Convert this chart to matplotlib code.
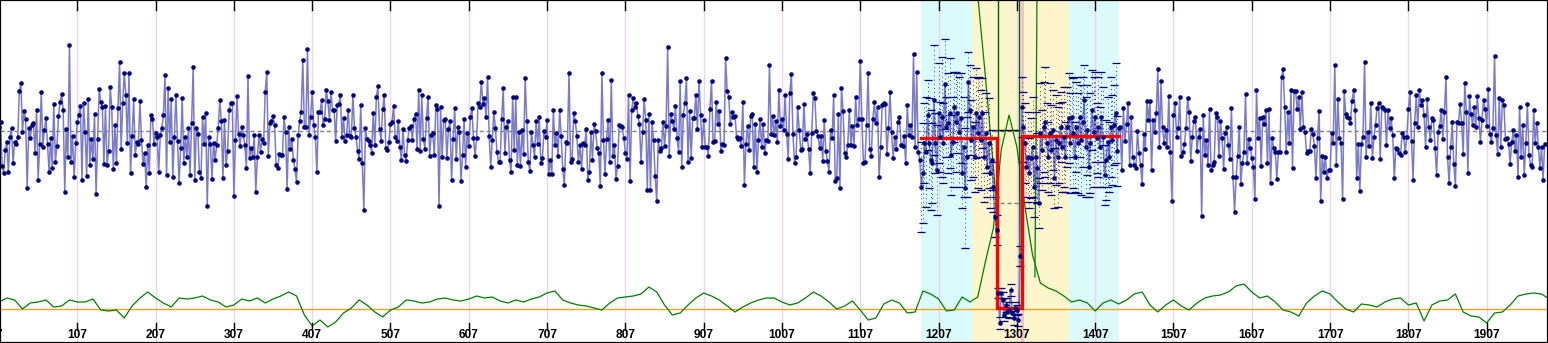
import numpy as np
import matplotlib
matplotlib.use("Agg")
import matplotlib.pyplot as plt
from matplotlib.transforms import Affine2D, blended_transform_factory

# ---------------------------------------------------------------- data
# probe log-ratios, one probe every 2 index units starting at 7
ratios_a = [
    0.04, 0.09, -0.35, -0.42, -0.19, -0.11, -0.41, -0.06, 0.03, -0.32,
    -0.11, -0.13, -0.06, 0.40, 0.48, -0.01, 0.20, 0.12, -0.57, 0.03,
    -0.07, 0.06, 0.08, -0.22, 0.21, -0.49, -0.13, 0.39, -0.16, 0.01,
    0.13, -0.13, -0.41, -0.07, -0.37, 0.27, -0.31, -0.15, 0.15, 0.29,
    0.37, 0.21, -0.61, 0.02, -0.26, 0.86, -0.31, -0.05, -0.46, -0.12,
    0.09, 0.16, 0.25, -0.49, 0.28, -0.01, -0.45, 0.32, -0.34, -0.08,
    -0.28, 0.17, -0.63, -0.08, 0.42, 0.29, 0.24, -0.33, 0.25, -0.34,
    -0.20, 0.44, 0.24, -0.38, 0.06, -0.32, 0.23, 0.69, -0.18, 0.28,
    0.58, 0.36, -0.12, 0.58, -0.42, -0.05, 0.32, -0.24, -0.11, -0.13,
    0.30, -0.09, -0.33, -0.22, -0.56, -0.14, -0.42, 0.16, 0.12, -0.13,
    -0.02, -0.06, -0.41, -0.04, 0.03, 0.16, 0.56, -0.44, 0.43, -0.11,
    0.32, -0.46, -0.06, 0.36, -0.10, -0.52, -0.17, 0.33, -0.32, -0.06,
    -0.26, 0.03, -0.44, 0.08, 0.64, -0.49, 0.03, -0.03, -0.41, -0.47,
    0.14, -0.13, 0.18, -0.75, -0.06, -0.13, -0.48, -0.12, -0.29, -0.14,
    0.03, 0.31, 0.10, -0.47, 0.11, -0.34, -0.20, 0.21, 0.28, 0.28,
    -0.65, -0.09, 0.35, -0.03, -0.15, 0.04, -0.04, -0.14, -0.37, 0.55,
    -0.27, -0.17, -0.26, -0.04, -0.61, -0.26, -0.04, -0.21, -0.08, -0.12,
    0.39, 0.59, -0.25, 0.08, 0.10, 0.15, 0.06, -0.34, -0.37, -0.23,
    -0.24, -0.24, 0.14, -0.01, -0.58, 0.04, -0.18, -0.08, -0.29, -0.38,
    -0.51, -0.04, 0.10, 0.19, 0.71, 0.04, 0.04, 0.82, -0.04, 0.14,
    0.39, 0.06, -0.06, -0.41, 0.19, 0.19, 0.31, 0.06, 0.12, 0.41,
    0.30, 0.11, 0.39, 0.21, 0.21, -0.10, 0.26, 0.27, 0.36, -0.06,
    0.13, -0.10, -0.04, 0.21, -0.05, -0.06, 0.36, 0.03, -0.06, -0.20,
    -0.28, 0.26, -0.32, -0.79, 0.03, -0.08, -0.10, -0.14, -0.22, 0.18,
    -0.14, 0.34, 0.45, 0.02, -0.10, 0.22, 0.36, -0.17, -0.19, -0.11,
    0.07, 0.09, 0.25, -0.06, -0.10, 0.10, -0.16, -0.29, 0.02, -0.24,
    -0.30, -0.09, 0.03, 0.05, -0.09, 0.12, 0.17, -0.18, 0.41, -0.20,
    0.36, -0.08, -0.18, 0.13, 0.34, -0.25, -0.04, -0.02, -0.24, 0.26,
    0.22, -0.75, 0.24, -0.26, 0.11, 0.12, -0.27, 0.02, 0.10, -0.49,
    -0.08, 0.23, -0.28, 0.04, -0.01, -0.50, -0.24, 0.12, -0.36, -0.02,
]
ratios_b = [
    -0.15, 0.14, 0.23, -0.07, -0.25, -0.07, 0.28, 0.24, 0.49, 0.27,
    0.33, 0.14, 0.54, -0.05, -0.36, -0.09, 0.19, 0.03, -0.21, -0.31,
    -0.31, 0.12, 0.43, -0.22, 0.04, 0.10, -0.29, -0.41, 0.34, -0.19,
    0.34, -0.34, -0.01, -0.35, 0.01, -0.23, 0.53, 0.10, -0.31, -0.40,
    -0.01, -0.14, -0.26, 0.10, -0.13, 0.14, -0.32, -0.27, 0.00, -0.06,
    0.11, -0.43, -0.29, -0.43, 0.21, -0.14, -0.02, -0.25, 0.21, -0.05,
    -0.38, -0.54, -0.11, -0.12, 0.58, -0.31, -0.28, 0.18, 0.10, -0.05,
    -0.31, -0.14, -0.38, -0.12, -0.14, 0.02, -0.49, -0.41, -0.01, -0.29,
    0.07, 0.00, -0.17, -0.22, -0.55, 0.58, -0.09, -0.43, -0.08, 0.11,
    -0.31, 0.51, -0.25, -0.14, -0.48, -0.35, 0.06, 0.05, 0.04, -0.07,
    -0.22, -0.28, 0.36, -0.50, 0.21, 0.33, 0.24, 0.28, 0.15, 0.07,
    -0.31, -0.01, 0.32, 0.11, -0.59, 0.17, -0.59, 0.09, -0.09, -0.45,
    -0.70, -0.09, -0.20, -0.17, 0.09, -0.15, 0.05, 0.84, -0.25, 0.17,
    0.10, 0.02, 0.25, -0.07, -0.21, 0.50, -0.36, 0.16, 0.28, 0.53,
    -0.31, 0.20, -0.27, 0.13, 0.13, 0.36, 0.02, 0.50, 0.16, -0.16,
    0.11, -0.16, -0.16, -0.25, 0.22, 0.50, -0.11, -0.10, 0.29, 0.07,
    0.20, -0.20, -0.13, -0.14, 0.73, 0.40, 0.34, 0.07, 0.19, 0.14,
    0.15, -0.06, -0.08, -0.07, -0.15, 0.29, -0.54, -0.13, 0.05, -0.19,
    0.15, 0.17, -0.36, 0.07, -0.41, -0.09, 0.12, -0.16, 0.07, -0.22,
    -0.09, -0.10, 0.66, -0.03, 0.15, -0.04, 0.10, -0.11, 0.41, 0.05,
    0.12, 0.01, 0.36, -0.03, -0.28, 0.38, 0.57, -0.03, -0.32, -0.26,
    0.24, 0.01, -0.19, -0.18, 0.27, -0.08, -0.03, -0.18, -0.42, -0.02,
    0.38, 0.33, 0.00, -0.05, -0.17, -0.05, -0.30, 0.11, -0.20, -0.30,
    -0.41, 0.01, -0.07, 0.36, -0.50, -0.47, 0.17, -0.57, 0.43, 0.20,
    -0.22, -0.26, -0.14, 0.21, -0.14, 0.05, -0.15, 0.34, 0.06, 0.12,
    0.70, 0.12, -0.32, -0.31, 0.06, 0.58, -0.18, -0.25, 0.12, 0.29,
    0.08, 0.24, -0.46, -0.16, 0.26, 0.28, 0.27, -0.23, 0.03, 0.39,
    -0.01, -0.27, -0.06, -0.18, 0.09, 0.14, -0.14, -0.15, -0.05, -0.32,
    0.26, -0.04, 0.06, -0.06, 0.77, -0.16, 0.59, -0.21, -0.29,
]
# probes inside the examined window (index 1185 .. 1435)
ratios_window = [
    -0.56, -0.42, -0.12, -0.21, 0.16, -0.12, -0.29, -0.32, 0.31, -0.12,
    -0.39, 0.18, -0.06, 0.14, -0.12, 0.47, 0.04, 0.08, 0.18, -0.24,
    -0.11, 0.24, 0.09, 0.18, -0.01, 0.13, -0.42, -0.16, -0.57, -0.26,
    0.49, 0.21,
    -0.09, 0.04, -0.26, 0.18, -0.02, 0.14, -0.09, 0.18, -0.26, -0.02,
    -0.36, -0.12, -0.42, -0.29, -0.56, -0.86, -0.99,
    -1.62, -1.92, -1.62, -1.69, -1.84, -1.74, -1.81, -1.79, -1.59, -1.82,
    -1.87, -1.77, -1.79, -1.89, -1.25,
    0.24, 0.04, -0.12, -0.36, -0.26, -0.42, -0.27, -0.16, -0.56, -0.26,
    -0.37, -0.72, -0.02, -0.19, 0.04, 0.09, -0.12, -0.26, -0.02, -0.19,
    0.01, -0.47, -0.09, -0.26, -0.12, 0.04, -0.16, -0.06, -0.26, 0.04,
    0.13, -0.12, 0.14, -0.02, -0.26, 0.04, -0.12, 0.14, -0.09, 0.09,
    0.31, -0.16, 0.01, -0.36, -0.12, 0.21, -0.01, 0.14, -0.07, 0.04,
    -0.16, 0.14, -0.06, -0.44, -0.29, -0.11, -0.26, 0.04, -0.09, 0.06,
    0.18, -0.20,
]
# per-probe uncertainty inside the window
window_err = [
    0.45, 0.50, 0.40, 0.55, 0.35, 0.45, 0.50, 0.40, 0.55, 0.30,
    0.45, 0.50, 0.35, 0.60, 0.40, 0.45, 0.30, 0.50, 0.55, 0.40,
    0.45, 0.35, 0.50, 0.40, 0.55, 0.45, 0.35, 0.50, 0.60, 0.40,
    0.30, 0.45,
    0.40, 0.50, 0.35, 0.45, 0.55, 0.40, 0.50, 0.35, 0.45, 0.40,
    0.30, 0.45, 0.35, 0.30, 0.25, 0.20, 0.15,
    0.05, 0.06, 0.05, 0.08, 0.06, 0.07, 0.05, 0.08, 0.06, 0.05,
    0.07, 0.06, 0.05, 0.06, 0.10,
    0.30, 0.35, 0.40, 0.30, 0.45, 0.35, 0.40, 0.50, 0.30, 0.45,
    0.35, 0.25, 0.50, 0.40, 0.45, 0.55, 0.40, 0.35, 0.50, 0.45,
    0.40, 0.30, 0.45, 0.50, 0.40, 0.35, 0.45, 0.50, 0.35, 0.40,
    0.45, 0.50, 0.40, 0.55, 0.35, 0.45, 0.50, 0.40, 0.55, 0.45,
    0.35, 0.50, 0.45, 0.30, 0.50, 0.40, 0.55, 0.45, 0.35, 0.50,
    0.40, 0.45, 0.50, 0.30, 0.40, 0.45, 0.35, 0.50, 0.45, 0.40,
    0.50, 0.35,
]
ratios_c = [
    0.03, 0.04, -0.39, 0.23, -0.10, 0.07, 0.28, -0.34, 0.14, -0.26,
    -0.34, -0.37, 0.00, -0.22, -0.34, -0.53, -0.03, -0.18, 0.30, 0.11,
    0.30, -0.39, 0.11, -0.01, 0.18, 0.62, -0.16, 0.50, 0.04, -0.12,
    0.01, -0.16, 0.35, -0.21, -0.70, 0.16, 0.28, -0.06, 0.03, 0.34,
    -0.25, -0.21, -0.13, 0.03, 0.33, 0.19, -0.30, -0.06, 0.10, 0.14,
    -0.20, -0.06, 0.02, -0.85, 0.16, -0.24, -0.09, -0.34, 0.22, -0.39,
    -0.34, -0.31, 0.18, 0.14, -0.25, 0.10, -0.07, -0.38, -0.02, 0.04,
    -0.14, -0.28, 0.23, -0.46, -0.81, -0.46, -0.25, 0.04, -0.53, -0.32,
    -0.21, 0.37, -0.32, -0.08, -0.17, -0.27, -0.36, -0.68, 0.41, -0.07,
    0.13, -0.35, 0.14, 0.07, 0.21, -0.32, 0.22, -0.52, -0.07, -0.17,
    -0.21, -0.48, -0.21, -0.21, 0.54, 0.62, 0.24, -0.21, 0.19, -0.12,
    0.41, -0.37, 0.40, 0.40, 0.22, 0.34, 0.02, 0.39, 0.04, -0.01,
    -0.22, -0.20, -0.20, 0.02, -0.03, -0.15, -0.47, -0.07, 0.20, -0.70,
    -0.25, -0.41, -0.26, -0.47, -0.39, -0.39, -0.02, -0.12, 0.66, -0.34,
    0.32, -0.07, -0.12, -0.68, 0.40, 0.17, 0.14, 0.13, 0.08, 0.30,
    0.41, 0.21, -0.47, -0.13, -0.60, -0.13, -0.06, 0.69, -0.26, -0.01,
    -0.15, 0.28, -0.27, -0.06, 0.06, 0.23, 0.28, -0.28, 0.24, 0.23,
    0.21, -0.14, 0.21, 0.03, 0.13, -0.04, -0.47, -0.17, -0.18, -0.22,
    -0.24, -0.02, -0.06, -0.21, -0.06, 0.22, 0.39, -0.10, -0.49, 0.08,
    0.36, 0.04, 0.41, 0.26, 0.31, 0.16, -0.16, 0.32, 0.04, -0.09,
    0.13, 0.11, -0.17, -0.44, -0.01, 0.05, 0.21, -0.08, 0.19, 0.54,
    -0.26, -0.52, -0.16, 0.09, -0.33, -0.55, 0.09, 0.08, 0.27, 0.08,
    -0.23, 0.48, 0.19, -0.42, 0.35, 0.17, 0.06, 0.24, 0.04, 0.35,
    0.13, -0.11, 0.11, 0.31, 0.22, 0.05, 0.42, -0.03, -0.11, 0.03,
    0.75, -0.04, -0.23, 0.33, -0.16, 0.31, 0.26, -0.08, -0.07, -0.13,
    -0.33, -0.11, 0.01, -0.20, -0.04, -0.46, 0.24, -0.26, 0.06, -0.44,
    -0.12, 0.27, -0.24, -0.34, -0.36, 0.21, -0.12, 0.08, -0.16, -0.37,
    -0.16, -0.49, -0.13,
]
probe_start, probe_step = 7, 2

# smoothed score track, one value every 10 index units starting at 7
score_start, score_step = 7, 10
score = [
    0.7, 1.1, 0.9, 0.0, 0.6, 0.7, 0.9, 0.2, 0.3, 0.9,
    0.7, 0.7, 1.0, -0.1, -0.2, -0.1, -0.9, 0.3, 1.1, 1.7,
    1.1, 0.6, 0.2, 1.1, 1.0, 1.1, 1.3, 0.9, 0.7, 0.2,
    0.4, 1.0, 0.8, 1.1, 0.6, 1.0, 1.3, 1.7, 1.3, -0.6,
    -1.7, -1.1, -1.8, -1.3, -0.4, 0.1, 0.9, 0.4, -0.3, -0.8,
    -0.1, 0.2, 0.9, 0.8, 0.6, 0.7, 1.0, 1.1, 0.9, 0.8,
    1.0, 1.3, 1.1, 1.2, 0.8, 0.6, 0.9, 0.7, 1.0, 1.2,
    1.6, 1.8, 0.9, 0.6, 0.4, 0.3, 0.1, -0.1, 0.6, 1.1,
    1.2, 1.3, 1.5, 2.2, 1.7, 0.4, -0.6, -0.4, 0.4, 1.1,
    1.6, 1.3, 0.9, 0.3, -0.3, 0.2, 0.6, 0.9, 1.1, 1.1,
    0.7, 0.4, 0.6, 1.1, 1.7, 1.3, 0.7, 0.0, 0.3, 0.8,
    -0.1, -1.1, -0.9, 0.5, 0.9, 0.6, -0.4, -0.3, 1.8, 1.5,
    1.0, -0.2, -0.1, 1.2, 0.7, 1.2, 4.8, 8.1, 15.9, 19.4,
    16.2, 10.4, 5.4, 2.6, 2.1, 1.8, 1.3, 0.7, 0.9, 0.6,
    -0.2, 0.6, 0.9, 0.5, 0.9, 1.5, 1.7, 0.4, -0.3, 0.4,
    0.9, 0.3, -0.1, 0.6, 1.1, 1.3, 1.4, 1.7, 2.3, 2.5,
    1.7, 1.1, 1.3, 0.7, -0.1, -0.3, -0.7, 0.6, 1.3, 1.8,
    1.5, 0.7, 0.0, -0.3, 0.5, 0.4, 0.2, 0.7, 1.0, 1.1,
    0.4, 0.6, -1.2, 0.4, 0.8, 0.9, 1.5, -0.3, -0.7, -0.8,
    -1.4, -0.4, -0.3, 0.4, 1.3, 1.5, 1.6, 1.5, 1.0,
]
# boundary scores on either side of the loss (they run off the top)
edge_left_x = [1257, 1266, 1274, 1282]
edge_left_y = [31.4, 23.9, 16.9, 9.6]
edge_right_x = [1330, 1331.4, 1332.7]
edge_right_y = [3.2, 16.9, 31.4]

# segmentation of the window
seg_start = [1185, 1282, 1313]
seg_end = [1282, 1313, 1437]
seg_mean = [-0.07, -1.77, -0.05]
breakpoints = [1283.5, 1309.7]
loss_ref = -0.72          # expected single-copy loss level

flank_left = (1185, 1250)
core = (1250, 1373)
flank_right = (1373, 1437)

tick_values = list(range(7, 2000, 100))
x_range = (8.3, 1985.3)
y_range = (-2.12, 1.31)

# ---------------------------------------------------------------- figure
W, H = 1548, 343
fig = plt.figure(figsize=(W / 100, H / 100), dpi=100)
ax = fig.add_axes([0, 0, 1, 1])
ax.set_xlim(*x_range)
ax.set_ylim(*y_range)
ax.set_xticks([])
ax.set_yticks([])
for sp in ax.spines.values():
    sp.set_color("black")
    sp.set_linewidth(1.6)
    sp.set_zorder(20)

# score track lives in its own units, stacked at the bottom of the panel
score_tr = Affine2D().scale(1, 0.1).translate(0, -1.78) + ax.transData
xa = blended_transform_factory(ax.transData, ax.transAxes)

# shaded window
ax.axvspan(*flank_left, color="#dbfbfb", lw=0, zorder=0)
ax.axvspan(*flank_right, color="#dbfbfb", lw=0, zorder=0)
ax.axvspan(*core, color="#fdf6cd", lw=0, zorder=0)

# vertical grid, ticks and labels
for t in tick_values:
    ax.axvline(t, color="#ecd6ec", lw=1.0, zorder=1)
    ax.plot([t, t], [1.0, 0.971], transform=xa, color="black", lw=1.0,
            zorder=21, clip_on=False)
    ax.plot([t, t], [0.058, 0.038], transform=xa, color="black", lw=1.0,
            zorder=21)
    ax.text(t, 0.022, str(t), transform=xa, ha="center", va="center",
            fontsize=8.6, fontweight="bold", family="Liberation Sans",
            color="black", zorder=21)

ax.axvline(seg_end[1], color="#f2bcd4", lw=2.0, zorder=1)

# reference lines
ax.axhline(0, color="#808080", lw=1.0, ls=(0, (3, 2)), zorder=2)
ax.plot([seg_start[1], seg_end[1]], [0.01, 0.01], color="black", lw=1.0,
        zorder=3)
ax.plot([breakpoints[0] + 2, breakpoints[1]], [loss_ref, loss_ref],
        color="#808080", lw=1.0, ls=(0, (3, 2)), zorder=3)

# score track
sx = score_start + score_step * np.arange(len(score))
ax.plot(list(x_range), [0, 0], transform=score_tr, color="#f5a31a",
        lw=1.0, zorder=2)
ax.plot(sx, score, transform=score_tr, color="#008000", lw=0.9, zorder=3)
ax.plot(edge_left_x, edge_left_y, transform=score_tr, color="#008000",
        lw=0.9, zorder=3)
ax.plot(edge_right_x, edge_right_y, transform=score_tr, color="#008000",
        lw=0.9, zorder=3)
ax.vlines(breakpoints, seg_mean[1], y_range[1], color="#006000", lw=1.0,
          zorder=3)

# probes
ratios = np.array(ratios_a + ratios_b + ratios_window + ratios_c)
px = probe_start + probe_step * np.arange(len(ratios))
ax.plot(px, ratios, color="#7b7bc8", lw=1.1, zorder=4)

inside = (px >= flank_left[0]) & (px <= flank_right[1])
xi, yi = px[inside], ratios[inside]
n = min(len(xi), len(window_err))
eb = ax.errorbar(xi[:n], yi[:n], yerr=window_err[:n], fmt="none",
                 ecolor="#000080", elinewidth=0.6, capsize=2.6,
                 capthick=0.9, zorder=5)
eb.lines[2][0].set_linestyle((0, (1, 4)))

# segment means
rx, ry = [], []
for s, e, m in zip(seg_start, seg_end, seg_mean):
    rx += [s, e]
    ry += [m, m]
ax.plot(rx, ry, color="#ff0000", lw=2.4, zorder=5.5, solid_joinstyle="miter")

ax.plot(px, ratios, "o", ms=3.3, mew=0, color="#000080", zorder=6)

fig.savefig("out.png", dpi=100)
